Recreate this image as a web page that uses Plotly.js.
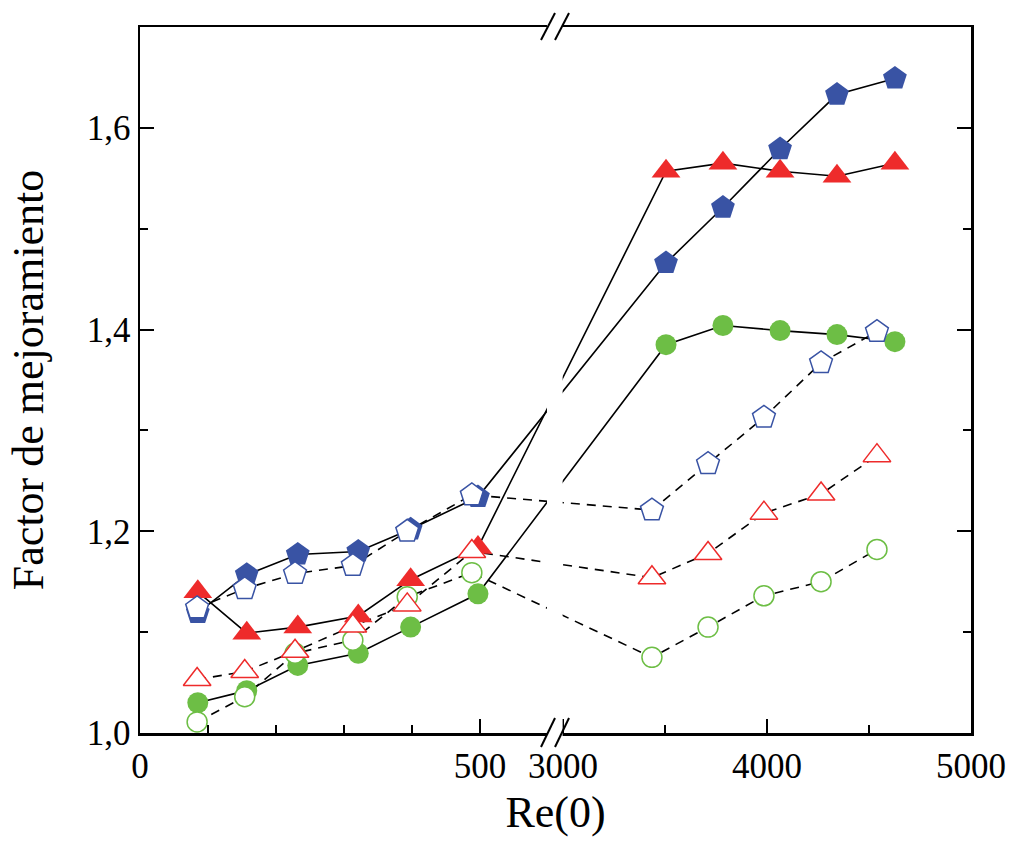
<!DOCTYPE html>
<html>
<head>
<meta charset="utf-8">
<script src="https://cdn.plot.ly/plotly-3.0.1.min.js"></script>
<style>html,body{margin:0;padding:0;background:#fff;}#chart{width:1014px;height:846px;}</style>
</head>
<body>
<div id="chart"></div>
<script>
// ---- data (Re(0) values; left panel 0-600, right panel 3000-5000) ----
const xFilledLeft  = [85, 157, 232, 321, 398, 497];
const xFilledRight = [3505, 3784, 4064, 4343, 4627];
const xOpenLeft    = [84, 154, 228, 313, 393, 488];
const xOpenRight   = [3436, 3711, 3985, 4265, 4539];

const blueFilledLeft  = [1.119, 1.157, 1.177, 1.180, 1.202, 1.234];
const blueFilledRight = [1.466, 1.521, 1.579, 1.633, 1.649];
const redFilledLeft   = [1.140, 1.099, 1.105, 1.116, 1.152, 1.184];
const redFilledRight  = [1.557, 1.565, 1.557, 1.552, 1.565];
const greenFilledLeft = [1.030, 1.042, 1.067, 1.079, 1.105, 1.138];
const greenFilledRight= [1.385, 1.404, 1.399, 1.395, 1.388];

const blueOpenLeft  = [1.124, 1.143, 1.158, 1.166, 1.200, 1.236];
const blueOpenRight = [1.221, 1.267, 1.313, 1.367, 1.398];
const redOpenLeft   = [1.053, 1.061, 1.081, 1.106, 1.127, 1.180];
const redOpenRight  = [1.154, 1.178, 1.218, 1.237, 1.275];
const greenOpenLeft = [1.011, 1.036, 1.079, 1.092, 1.135, 1.159];
const greenOpenRight= [1.075, 1.105, 1.136, 1.150, 1.182];

const xTickValues = [0, 500, 3000, 4000, 5000];
const xTickLabels = ['0', '500', '3000', '4000', '5000'];
const xMinorValues = [100, 200, 300, 400, 3500, 4500];
const yTickValues = [1.0, 1.2, 1.4, 1.6];
const yTickLabels = ['1,0', '1,2', '1,4', '1,6'];
const yMinorValues = [1.1, 1.3, 1.5];

// ---- broken-axis scale: left segment linear, right segment compressed ----
const BREAK_START = 3000, RIGHT_OFFSET = 622.06, RIGHT_SCALE = 0.3;
function brk(x) { return x <= 1000 ? x : RIGHT_OFFSET + (x - BREAK_START) * RIGHT_SCALE; }

const BLUE = '#3953a4', RED = '#ee2b2b', GREEN = '#6dbe45';
const FONT = 'Liberation Serif, Times New Roman, serif';

function xs(l, r) { return l.concat(r).map(brk); }

const series = [
  {x: xs(xFilledLeft, xFilledRight), y: greenFilledLeft.concat(greenFilledRight), sym: 'circle', size: 21, c: GREEN, open: false},
  {x: xs(xFilledLeft, xFilledRight), y: redFilledLeft.concat(redFilledRight), sym: 'triangle-up', size: 25, c: RED, open: false},
  {x: xs(xFilledLeft, xFilledRight), y: blueFilledLeft.concat(blueFilledRight), sym: 'pentagon', size: 25, c: BLUE, open: false},
  {x: xs(xOpenLeft, xOpenRight), y: greenOpenLeft.concat(greenOpenRight), sym: 'circle', size: 20, c: GREEN, open: true},
  {x: xs(xOpenLeft, xOpenRight), y: redOpenLeft.concat(redOpenRight), sym: 'triangle-up', size: 24, c: RED, open: true},
  {x: xs(xOpenLeft, xOpenRight), y: blueOpenLeft.concat(blueOpenRight), sym: 'pentagon', size: 24, c: BLUE, open: true}
];

const traces = [];
series.forEach(s => {
  traces.push({x: s.x, y: s.y, mode: 'lines', type: 'scatter', hoverinfo: 'skip',
    line: {color: 'black', width: 1.6, dash: s.open ? '9px,7px' : 'solid'}});
});
series.forEach(s => {
  traces.push({x: s.x, y: s.y, mode: 'markers', type: 'scatter', cliponaxis: false,
    marker: {symbol: s.sym, size: s.size,
      color: s.open ? 'white' : s.c,
      line: {color: s.c, width: s.open ? 1.5 : 0}}});
});

const bx0 = 589.7, bx1 = 610.3, bx2 = 630.9;
const shapes = [
  {type: 'rect', xref: 'x', yref: 'paper', x0: 598.5, x1: 621.5, y0: -0.03, y1: 1.03,
   fillcolor: 'white', line: {width: 0}, layer: 'above'},
  {type: 'line', xref: 'x', yref: 'paper', x0: bx0, x1: bx1, y0: -0.0198, y1: 0.0212, line: {color: 'black', width: 2}, layer: 'above'},
  {type: 'line', xref: 'x', yref: 'paper', x0: bx1, x1: bx2, y0: -0.0198, y1: 0.0212, line: {color: 'black', width: 2}, layer: 'above'},
  {type: 'line', xref: 'x', yref: 'paper', x0: bx0, x1: bx1, y0: 0.9816, y1: 1.0198, line: {color: 'black', width: 2}, layer: 'above'},
  {type: 'line', xref: 'x', yref: 'paper', x0: bx1, x1: bx2, y0: 0.9816, y1: 1.0198, line: {color: 'black', width: 2}, layer: 'above'}
];

const layout = {
  width: 1014, height: 846,
  margin: {l: 140, r: 43, t: 27, b: 113},
  paper_bgcolor: 'white', plot_bgcolor: 'white',
  showlegend: false,
  font: {family: FONT, color: 'black'},
  xaxis: {
    range: [0, brk(5000)],
    tickmode: 'array', tickvals: xTickValues.map(brk), ticktext: xTickLabels,
    ticks: 'inside', ticklen: 14, tickwidth: 2, tickcolor: 'black',
    minor: {tickmode: 'array', tickvals: xMinorValues.map(brk), ticks: 'inside', ticklen: 8, tickwidth: 2, tickcolor: 'black'},
    showline: true, linewidth: 2.5, linecolor: 'black', mirror: true,
    showgrid: false, zeroline: false,
    tickfont: {family: FONT, size: 35, color: 'black'},
    title: {text: 'Re(0)', font: {family: FONT, size: 44, color: 'black'}, standoff: 12}
  },
  yaxis: {
    range: [1.0, 1.7],
    tickmode: 'array', tickvals: yTickValues, ticktext: yTickLabels,
    ticks: 'inside', ticklen: 14, tickwidth: 2, tickcolor: 'black',
    minor: {tickmode: 'array', tickvals: yMinorValues, ticks: 'inside', ticklen: 8, tickwidth: 2, tickcolor: 'black'},
    showline: true, linewidth: 2.5, linecolor: 'black', mirror: 'ticks',
    showgrid: false, zeroline: false,
    tickfont: {family: FONT, size: 35, color: 'black'},
    title: {text: 'Factor de mejoramiento', font: {family: FONT, size: 44, color: 'black'}, standoff: 30}
  },
  shapes: shapes
};

Plotly.newPlot('chart', traces, layout, {staticPlot: true, displayModeBar: false});
</script>
</body>
</html>
